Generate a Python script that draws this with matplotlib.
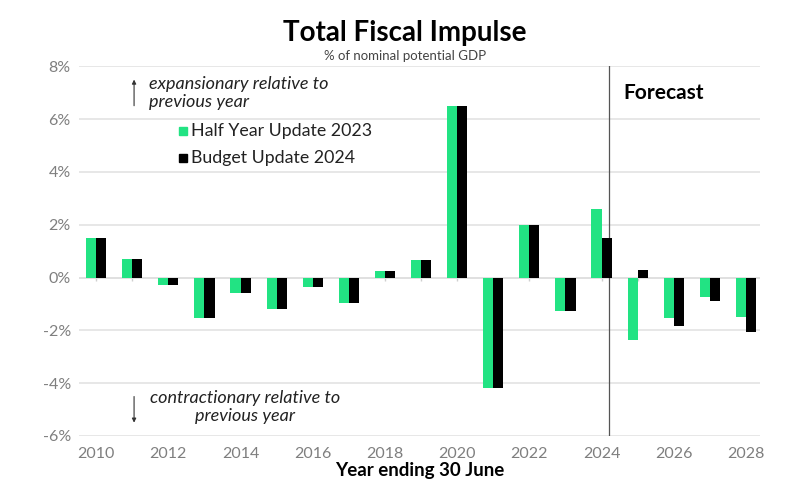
import numpy as np
import matplotlib
matplotlib.use("Agg")
import matplotlib.pyplot as plt

# Data (% of nominal potential GDP)
years = list(range(2010, 2029))
half_year_2023 = [1.5, 0.7, -0.3, -1.55, -0.6, -1.2, -0.37, -0.95, 0.25, 0.65,
                  6.5, -4.2, 2.0, -1.25, 2.6, -2.35, -1.55, -0.75, -1.5]
budget_2024 = [1.5, 0.7, -0.3, -1.55, -0.6, -1.2, -0.37, -0.95, 0.25, 0.65,
               6.5, -4.2, 2.0, -1.25, 1.5, 0.3, -1.85, -0.87, -2.05]
series_labels = ["Half Year Update 2023", "Budget Update 2024"]
y_ticks = [-6, -4, -2, 0, 2, 4, 6, 8]
x_ticks = list(range(2010, 2029, 2))
forecast_start = 2024.2

GREEN = "#22E383"
GREY = "#7f7f7f"
plt.rcParams["font.family"] = ["Lato", "DejaVu Sans"]

fig = plt.figure(figsize=(8, 4.98), dpi=100)
ax = fig.add_axes([0.099, 0.1245, 0.851, 0.7425])

x = np.array(years, dtype=float)
w = 0.28
ax.bar(x - w / 2, half_year_2023, width=w, color=GREEN, zorder=3)
ax.bar(x + w / 2, budget_2024, width=w, color="black", zorder=3)

ax.set_xlim(2009.53, 2028.39)
ax.set_ylim(-6, 8)
ax.set_yticks(y_ticks)
ax.set_yticklabels([f"{v}%" for v in y_ticks])
ax.set_xticks(x_ticks)
ax.tick_params(axis="both", length=0, labelsize=11.5, colors=GREY, pad=6)
ax.tick_params(axis="x", pad=8)
for s in ax.spines.values():
    s.set_visible(False)
ax.grid(axis="y", color="#e3e3e3", linewidth=1.2, zorder=0)
ax.axhline(0, color="#cfcfcf", linewidth=1.2, zorder=1)
ax.vlines(x, -0.12, 0, color="#cfcfcf", linewidth=1, zorder=1)
ax.axvline(forecast_start, color="#555555", linewidth=0.9, zorder=2)

ax.set_xlabel("Year ending 30 June", fontsize=13.5, fontweight="bold",
              color="black", labelpad=1)

fig.text(0.506, 0.934, "Total Fiscal Impulse", ha="center", va="center",
         fontsize=20, fontweight="bold")
fig.text(0.506, 0.888, "% of nominal potential GDP", ha="center", va="center",
         fontsize=9.5, color="#444444")

ax.text(2024.6, 7.0, "Forecast", fontsize=15, fontweight="bold", va="center")

# legend drawn as markers + text in data coordinates
ax.plot([2012.4], [5.55], marker="s", color=GREEN, markersize=6, ls="none")
ax.text(2012.62, 5.55, series_labels[0], va="center", fontsize=12.8, color="#222222")
ax.plot([2012.4], [4.52], marker="s", color="black", markersize=6, ls="none")
ax.text(2012.62, 4.52, series_labels[1], va="center", fontsize=12.8, color="#222222")

# direction annotations
ax.annotate("", xy=(2011.05, 7.6), xytext=(2011.05, 6.4),
            arrowprops=dict(arrowstyle="-|>", color="#333333", lw=0.8,
                            mutation_scale=6))
ax.text(2011.45, 7.0, "expansionary relative to\nprevious year", fontsize=13,
        style="italic", va="center", ha="left", linespacing=1.15, color="#222222")
ax.annotate("", xy=(2011.05, -5.6), xytext=(2011.05, -4.4),
            arrowprops=dict(arrowstyle="-|>", color="#333333", lw=0.8,
                            mutation_scale=6))
ax.text(2014.13, -4.9, "contractionary relative to\nprevious year", fontsize=13,
        style="italic", va="center", ha="center", linespacing=1.15, color="#222222")

fig.savefig("out.png", dpi=100)
